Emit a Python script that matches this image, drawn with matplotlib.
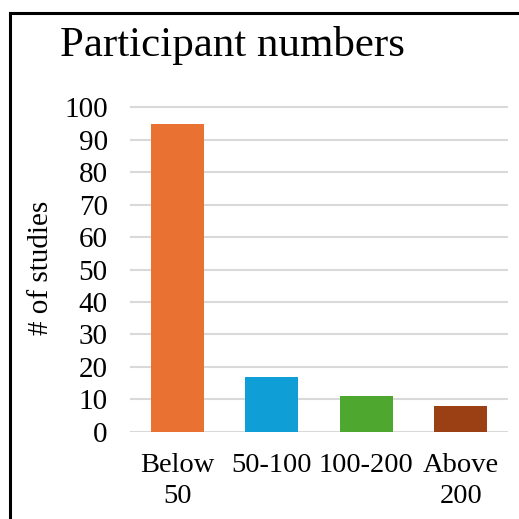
import matplotlib
matplotlib.use("Agg")
import matplotlib.pyplot as plt
from matplotlib.lines import Line2D

categories = ["Below\n50", "50-100", "100-200", "Above\n200"]
values = [95, 17, 11, 8]
colors = ["#E97132", "#0F9ED5", "#4EA72E", "#9A4014"]
yticks = [0, 10, 20, 30, 40, 50, 60, 70, 80, 90, 100]

plt.rcParams['font.family'] = ['Liberation Serif', 'DejaVu Serif']

W = 519
fig = plt.figure(figsize=(5.19, 5.19), dpi=100)
left, right = 130 / W, 508 / W
bottom = 1 - 431.7 / W
top100 = 1 - 107.3 / W
ymax = 101
top = bottom + (top100 - bottom) * ymax / 100
ax = fig.add_axes([left, bottom, right - left, top - bottom])

x = list(range(len(categories)))
ax.bar(x, values, width=0.56, color=colors, zorder=3)
ax.set_xlim(-0.5, 3.5)
ax.set_ylim(0, ymax)
ax.set_yticks(yticks)
ax.set_xticks(x)
ax.set_xticklabels(categories, fontsize=20.5, linespacing=1.33)
ax.tick_params(axis='y', length=0, pad=16, labelsize=21)
ax.tick_params(axis='x', length=0, pad=15)
ax.yaxis.grid(True, color="#D9D9D9", linewidth=1.5, zorder=0)
ax.set_axisbelow(True)
for s in ax.spines.values():
    s.set_visible(False)
ax.set_ylabel("# of studies", fontsize=21, labelpad=7)

fig.text(60 / W, 1 - 56 / W, "Participant numbers", fontsize=31, ha='left', va='baseline')

# border lines (left and top)
fig.add_artist(Line2D([10 / W, 10 / W], [0, 1 - 13 / W], color='black', linewidth=2.2, transform=fig.transFigure))
fig.add_artist(Line2D([10 / W, 518 / W], [1 - 13 / W, 1 - 13 / W], color='black', linewidth=2.2, transform=fig.transFigure))

fig.savefig("out.png", dpi=100)
